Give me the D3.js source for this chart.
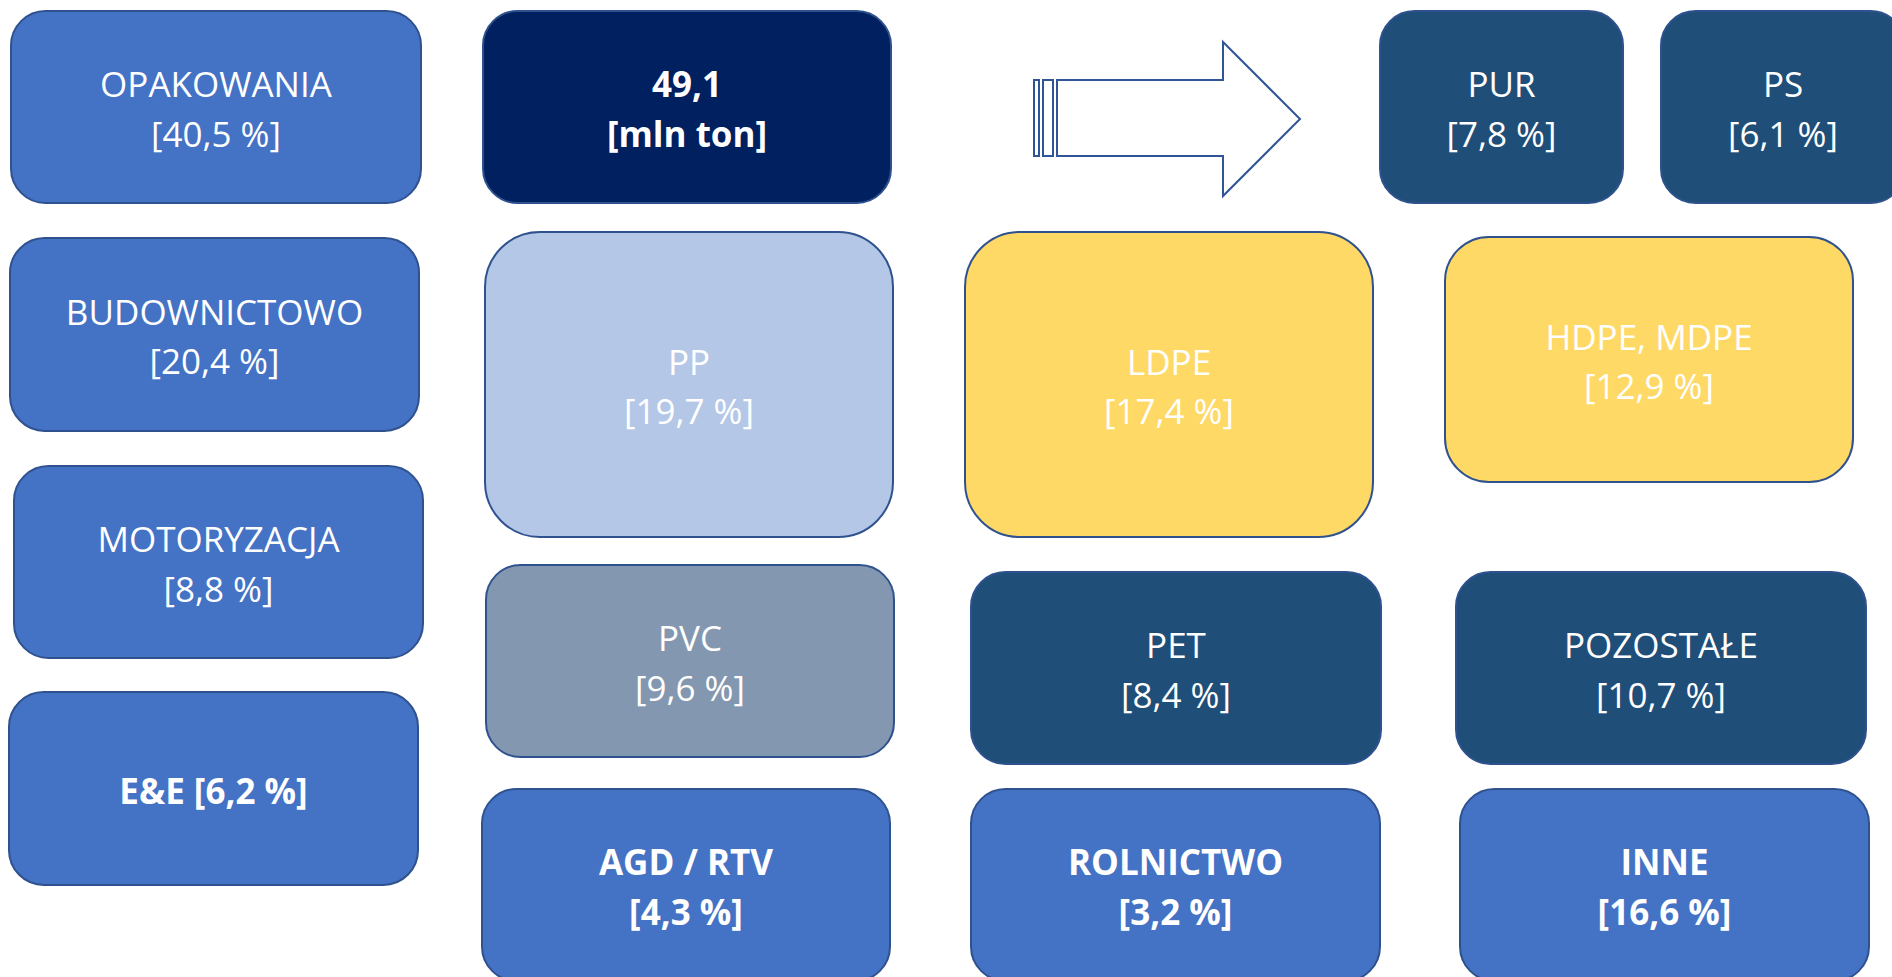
<!DOCTYPE html>
<html lang="pl">
<head>
<meta charset="utf-8">
<script src="https://cdn.jsdelivr.net/npm/d3@7"></script>
<style>
  html, body { margin: 0; padding: 0; background: #ffffff; overflow: hidden; }
  svg { display: block; }
  text { font-family: "Open Sans", "Lato", sans-serif; }
</style>
</head>
<body>
<svg id="chart"></svg>
<script>
// Plastics demand: end-use sectors and polymer types (share of total demand, %)
const totalDemand = 49.1;
const totalUnit = "mln ton";

const sectors      = ["OPAKOWANIA", "BUDOWNICTOWO", "MOTORYZACJA", "E&E", "AGD / RTV", "ROLNICTWO", "INNE"];
const sectorShares = [40.5, 20.4, 8.8, 6.2, 4.3, 3.2, 16.6];

const polymers      = ["PP", "LDPE", "HDPE, MDPE", "PVC", "PET", "PUR", "PS", "POZOSTAŁE"];
const polymerShares = [19.7, 17.4, 12.9, 9.6, 8.4, 7.8, 6.1, 10.7];

// Slide layout (slide units), kept apart from the values
const layout = {
  "OPAKOWANIA":   { x: 11,   y: 11,  w: 410, h: 192, fill: "#4472C4", bold: false, oneLine: false },
  "BUDOWNICTOWO": { x: 10,   y: 238, w: 409, h: 193, fill: "#4472C4", bold: false, oneLine: false },
  "MOTORYZACJA":  { x: 14,   y: 466, w: 409, h: 192, fill: "#4472C4", bold: false, oneLine: false },
  "E&E":          { x: 9,    y: 692, w: 409, h: 193, fill: "#4472C4", bold: true,  oneLine: true  },
  "AGD / RTV":    { x: 482,  y: 789, w: 408, h: 192, fill: "#4472C4", bold: true,  oneLine: false },
  "ROLNICTWO":    { x: 971,  y: 789, w: 409, h: 192, fill: "#4472C4", bold: true,  oneLine: false },
  "INNE":         { x: 1460, y: 789, w: 409, h: 192, fill: "#4472C4", bold: true,  oneLine: false },
  "PP":           { x: 485,  y: 232, w: 408, h: 305, fill: "#B4C7E7", bold: false, oneLine: false },
  "LDPE":         { x: 965,  y: 232, w: 408, h: 305, fill: "#FFD966", bold: false, oneLine: false },
  "HDPE, MDPE":   { x: 1445, y: 237, w: 408, h: 245, fill: "#FFD966", bold: false, oneLine: false },
  "PVC":          { x: 486,  y: 565, w: 408, h: 192, fill: "#8497B0", bold: false, oneLine: false },
  "PET":          { x: 971,  y: 572, w: 410, h: 192, fill: "#1F4E79", bold: false, oneLine: false },
  "PUR":          { x: 1380, y: 11,  w: 243, h: 192, fill: "#1F4E79", bold: false, oneLine: false },
  "PS":           { x: 1661, y: 11,  w: 244, h: 192, fill: "#1F4E79", bold: false, oneLine: false },
  "POZOSTAŁE":    { x: 1456, y: 572, w: 410, h: 192, fill: "#1F4E79", bold: false, oneLine: false },
  "total":        { x: 483,  y: 11,  w: 408, h: 192, fill: "#002060", bold: true,  oneLine: false }
};

// Arrow from the total box towards the polymer boxes (slide units)
const arrowShape = { stripe1: [1034, 1039], stripe2: [1043, 1053], bodyX: [1057, 1223],
                     bodyY: [80, 156], headY: [42, 196], tipX: 1300 };

const W = 1892, H = 977;
const x = d3.scaleLinear().domain([0, 1892]).range([0, W]);
const y = d3.scaleLinear().domain([0, 977]).range([0, H]);

const pl = d3.formatLocale({ decimal: ",", thousands: " ", grouping: [3], currency: ["", " zł"] });
const fmt1 = pl.format(".1f");
const pct = v => `[${fmt1(v)} %]`;

// Build the list of boxes from the data arrays
const boxes = [];
boxes.push({ key: "total", lines: [fmt1(totalDemand), `[${totalUnit}]`] });
sectors.forEach((s, i) => {
  const L = layout[s];
  boxes.push({ key: s, lines: L.oneLine ? [`${s} ${pct(sectorShares[i])}`] : [s, pct(sectorShares[i])] });
});
polymers.forEach((p, i) => {
  boxes.push({ key: p, lines: [p, pct(polymerShares[i])] });
});

const svg = d3.select("#chart").attr("width", W).attr("height", H);

const g = svg.selectAll("g.box").data(boxes).join("g").attr("class", "box");

g.append("rect")
  .attr("x", d => x(layout[d.key].x))
  .attr("y", d => y(layout[d.key].y))
  .attr("width", d => x(layout[d.key].w) - x(0))
  .attr("height", d => y(layout[d.key].h) - y(0))
  .attr("rx", d => 0.18 * Math.min(layout[d.key].w, layout[d.key].h))
  .attr("fill", d => layout[d.key].fill)
  .attr("stroke", "#2F528F")
  .attr("stroke-width", 2);

const lineGap = 49.5;
g.each(function (d) {
  const L = layout[d.key];
  const cx = x(L.x + L.w / 2), cy = y(L.y + L.h / 2);
  const n = d.lines.length;
  d3.select(this).selectAll("text").data(d.lines).join("text")
    .attr("x", cx)
    .attr("y", (t, i) => cy + 15 + (i - (n - 1) / 2) * lineGap)
    .attr("text-anchor", "middle")
    .attr("fill", "#ffffff")
    .attr("font-size", 35)
    .attr("font-weight", L.bold ? 700 : 400)
    .text(t => t);
});

// Striped right arrow
const a = arrowShape;
const p = d3.path();
p.moveTo(x(a.bodyX[0]), y(a.bodyY[0]));
p.lineTo(x(a.bodyX[1]), y(a.bodyY[0]));
p.lineTo(x(a.bodyX[1]), y(a.headY[0]));
p.lineTo(x(a.tipX), y((a.headY[0] + a.headY[1]) / 2));
p.lineTo(x(a.bodyX[1]), y(a.headY[1]));
p.lineTo(x(a.bodyX[1]), y(a.bodyY[1]));
p.lineTo(x(a.bodyX[0]), y(a.bodyY[1]));
p.closePath();
[a.stripe1, a.stripe2].forEach(s => {
  p.rect(x(s[0]), y(a.bodyY[0]), x(s[1]) - x(s[0]), y(a.bodyY[1]) - y(a.bodyY[0]));
});
svg.append("path")
  .attr("d", p.toString())
  .attr("fill", "#ffffff")
  .attr("stroke", "#2F5597")
  .attr("stroke-width", 2)
  .attr("stroke-linejoin", "miter");
</script>
</body>
</html>
